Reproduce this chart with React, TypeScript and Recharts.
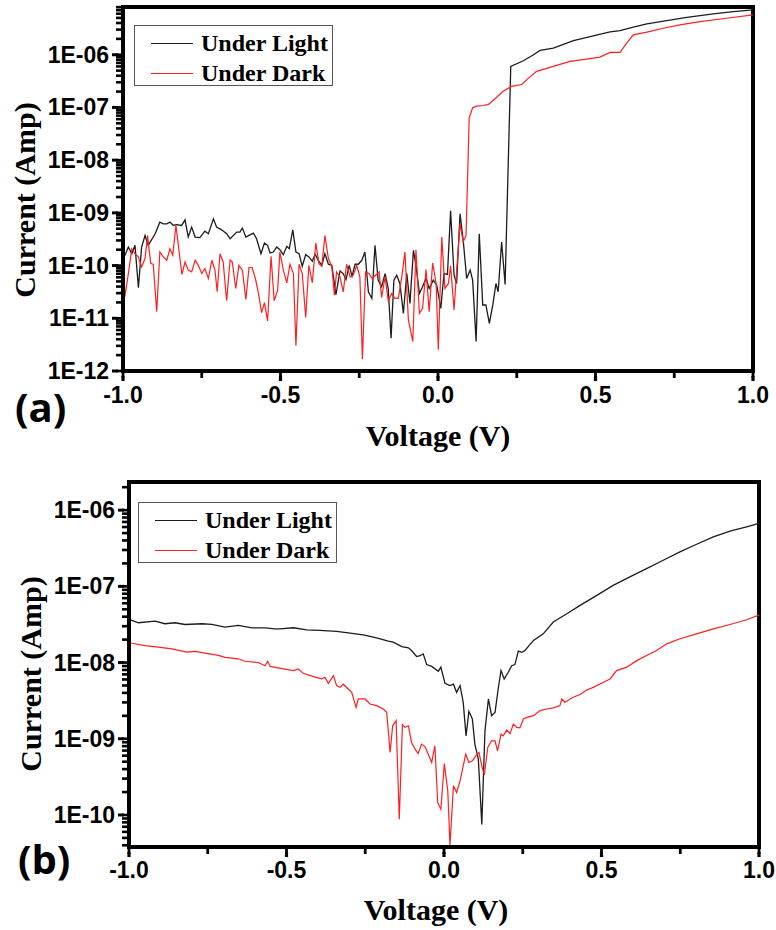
import { Legend, Line, LineChart, ReferenceArea, XAxis, YAxis } from 'recharts'

const SERIF = '"Liberation Serif", "Times New Roman", serif'
const SANS = '"Liberation Sans", Arial, sans-serif'

const seriesNames = ['Under Light', 'Under Dark']
const voltageTicks = [-1, -0.75, -0.5, -0.25, 0, 0.25, 0.5, 0.75, 1]
const minorSteps = [1, 2, 3, 4, 5, 6, 7, 8, 9]

// decades shown on the current axis of each panel
const decadesA = [-12, -11, -10, -9, -8, -7, -6]
const decadesB = [-11, -10, -9, -8, -7, -6]

// ---- panel (a) ----
const lightVoltsA = [
  -1.0, -0.994, -0.983, -0.972, -0.962, -0.951, -0.941, -0.93, -0.92, -0.898, -0.883, -0.872, -0.861,
  -0.851, -0.84, -0.83, -0.814, -0.803, -0.793, -0.782, -0.771, -0.756, -0.74, -0.729, -0.713, -0.703,
  -0.687, -0.671, -0.66, -0.639, -0.629, -0.621, -0.61, -0.6, -0.586, -0.576, -0.562, -0.551, -0.541,
  -0.533, -0.523, -0.512, -0.502, -0.491, -0.48, -0.472, -0.461, -0.451, -0.441, -0.431, -0.42, -0.41,
  -0.399, -0.39, -0.38, -0.369, -0.359, -0.348, -0.337, -0.324, -0.311, -0.301, -0.292, -0.282, -0.273,
  -0.263, -0.253, -0.242, -0.232, -0.221, -0.21, -0.2, -0.19, -0.179, -0.168, -0.158, -0.149, -0.14,
  -0.131, -0.121, -0.11, -0.099, -0.089, -0.078, -0.07, -0.059, -0.049, -0.038, -0.028, -0.015, -0.004,
  0.009, 0.019, 0.03, 0.04, 0.051, 0.059, 0.07, 0.08, 0.091, 0.102, 0.11, 0.121, 0.131, 0.142, 0.152,
  0.163, 0.174, 0.184, 0.191, 0.202, 0.213, 0.231, 0.271, 0.303, 0.324, 0.366, 0.43, 0.493, 0.546,
  0.578, 0.62, 0.663, 0.726, 0.79, 0.874, 0.938, 1.0,
]
const lightAmpsA = [
  1.4e-10, 1.57e-10, 2.25e-10, 1.68e-10, 2.42e-10, 3.8e-11, 2.25e-10, 3.73e-10, 2.42e-10, 4.02e-10,
  6.67e-10, 6.2e-10, 6.2e-10, 6.67e-10, 5.77e-10, 6.0e-10, 5.77e-10, 7.38e-10, 3.48e-10, 5.37e-10,
  3.48e-10, 3.4e-10, 4.5e-10, 4.02e-10, 7.7e-10, 5.37e-10, 4.77e-10, 4.02e-10, 3.23e-10, 4.32e-10,
  4.32e-10, 5.14e-10, 3.48e-10, 3.73e-10, 4.13e-10, 3.23e-10, 1.68e-10, 2.68e-10, 2.42e-10, 1.73e-10,
  1.81e-10, 2.25e-10, 2.0e-10, 1.61e-10, 2.32e-10, 2.09e-10, 4.77e-10, 1.81e-10, 1.68e-10, 9.7e-11,
  1.61e-10, 1.46e-10, 1.21e-10, 1.64e-10, 1.26e-10, 1.01e-10, 1.68e-10, 1.06e-10, 1.01e-10, 2.8e-11,
  7.9e-11, 7.06e-11, 5.44e-11, 1.01e-10, 6.3e-11, 1.06e-10, 1.06e-10, 1.26e-10, 1.81e-10, 3.18e-11,
  2.38e-11, 2.42e-10, 5.3e-11, 3.96e-11, 7.06e-11, 3.68e-11, 4.2e-12, 5.3e-11, 6.57e-11, 4.57e-11,
  1.24e-11, 7.06e-11, 1.92e-11, 1.95e-10, 1.01e-10, 2.96e-11, 3.96e-11, 5.69e-11, 3.68e-11, 5.3e-11,
  4.25e-11, 1.54e-11, 7.06e-11, 6.8e-11, 1.1e-9, 6.57e-11, 4.57e-11, 9.6e-10, 3.0e-10, 5.69e-11,
  8.2e-11, 5.3e-11, 3.63e-12, 4.02e-10, 1.79e-11, 1.8e-11, 8.0e-12, 1.79e-11, 4.57e-11, 3.18e-11,
  2.8e-10, 4.4e-11, 6.0e-7, 7.7e-7, 1.0e-6, 1.21e-6, 1.34e-6, 1.86e-6, 2.28e-6, 2.72e-6, 2.88e-6,
  3.33e-6, 3.85e-6, 4.44e-6, 5.14e-6, 5.94e-6, 6.56e-6, 7.1e-6,
]

const darkVoltsA = [
  -1.0, -0.994, -0.983, -0.972, -0.962, -0.951, -0.941, -0.93, -0.922, -0.912, -0.904, -0.893, -0.883,
  -0.872, -0.861, -0.851, -0.842, -0.832, -0.821, -0.813, -0.803, -0.793, -0.782, -0.771, -0.761, -0.75,
  -0.74, -0.729, -0.718, -0.708, -0.701, -0.692, -0.682, -0.671, -0.66, -0.653, -0.642, -0.632, -0.621,
  -0.61, -0.6, -0.59, -0.579, -0.57, -0.56, -0.551, -0.541, -0.53, -0.52, -0.509, -0.502, -0.491, -0.48,
  -0.47, -0.459, -0.451, -0.441, -0.431, -0.42, -0.41, -0.399, -0.388, -0.378, -0.369, -0.359, -0.348,
  -0.337, -0.329, -0.322, -0.311, -0.301, -0.29, -0.279, -0.269, -0.258, -0.248, -0.24, -0.23, -0.219,
  -0.209, -0.198, -0.187, -0.179, -0.168, -0.158, -0.147, -0.137, -0.126, -0.115, -0.105, -0.094, -0.08,
  -0.07, -0.059, -0.049, -0.038, -0.028, -0.017, -0.006, 0.001, 0.012, 0.022, 0.033, 0.04, 0.051, 0.059,
  0.07, 0.08, 0.089, 0.099, 0.11, 0.123, 0.144, 0.16, 0.181, 0.207, 0.234, 0.266, 0.282, 0.313, 0.366,
  0.419, 0.472, 0.514, 0.546, 0.578, 0.599, 0.62, 0.663, 0.715, 0.768, 0.832, 0.916, 1.0,
]
const darkAmpsA = [
  2.09e-10, 2.56e-11, 7.06e-11, 2.09e-10, 1.68e-10, 1.46e-10, 9.4e-11, 1.36e-10, 3.73e-10, 1.09e-10,
  1.06e-10, 1.34e-11, 1.81e-10, 1.46e-10, 1.26e-10, 2.09e-10, 1.57e-10, 5.77e-10, 1.68e-10, 6.76e-11,
  1.17e-10, 8.2e-11, 7.6e-11, 1.26e-10, 1.01e-10, 7.06e-11, 8.8e-11, 5.69e-11, 1.26e-10, 8.2e-11,
  3.18e-11, 1.68e-10, 1.17e-10, 2.15e-11, 1.28e-10, 1.17e-10, 3.68e-11, 1.01e-10, 8.2e-11, 2.28e-11,
  9.2e-11, 9.2e-11, 5.44e-11, 2.96e-11, 1.28e-11, 1.98e-11, 8.9e-12, 1.5e-10, 2.15e-11, 3.43e-11,
  1.81e-10, 8.2e-11, 4.71e-11, 1.06e-10, 7.06e-11, 3.0e-12, 1.06e-10, 7.06e-11, 1.04e-11, 1.01e-10,
  4.71e-11, 2.68e-10, 1.09e-10, 9.7e-11, 3.73e-10, 1.36e-10, 9.4e-11, 2.75e-11, 7.6e-11, 6.1e-11,
  3.18e-11, 1.06e-10, 6.1e-11, 6.57e-11, 1.01e-10, 6.1e-11, 1.68e-12, 7.6e-11, 7.06e-11, 5.69e-11,
  6.57e-11, 7.6e-11, 2.49e-11, 6.1e-11, 2.15e-11, 2.96e-11, 2.38e-11, 2.38e-11, 6.1e-11, 1.81e-10,
  9.3e-12, 3.63e-12, 2.0e-10, 1.24e-11, 1.54e-11, 8.4e-11, 1.34e-11, 1.12e-10, 4.57e-11, 2.53e-12,
  3.48e-10, 3.68e-11, 4.57e-11, 9.9e-11, 1.44e-11, 7.6e-11, 6.2e-10, 2.8e-10, 3.73e-10, 6.38e-8,
  9.86e-8, 1.06e-7, 1.09e-7, 1.14e-7, 1.46e-7, 2.03e-7, 2.52e-7, 2.72e-7, 3.38e-7, 4.84e-7, 6.0e-7,
  7.48e-7, 8.28e-7, 9.04e-7, 1.11e-6, 1.11e-6, 1.66e-6, 2.38e-6, 2.68e-6, 3.18e-6, 3.68e-6, 4.26e-6,
  4.92e-6, 5.69e-6,
]

// ---- panel (b) ----
const lightVoltsB = [
  -1.0, -0.991, -0.97, -0.917, -0.886, -0.854, -0.822, -0.769, -0.737, -0.695, -0.653, -0.61, -0.568,
  -0.537, -0.521, -0.478, -0.436, -0.394, -0.341, -0.298, -0.256, -0.214, -0.177, -0.161, -0.14, -0.134,
  -0.113, -0.103, -0.087, -0.076, -0.066, -0.055, -0.039, -0.018, -0.01, 0.003, 0.019, 0.03, 0.04,
  0.051, 0.061, 0.07, 0.079, 0.09, 0.098, 0.109, 0.12, 0.13, 0.141, 0.151, 0.162, 0.172, 0.181, 0.191,
  0.204, 0.215, 0.225, 0.236, 0.247, 0.257, 0.284, 0.315, 0.347, 0.39, 0.432, 0.485, 0.537, 0.59,
  0.643, 0.696, 0.749, 0.802, 0.855, 0.908, 0.961, 1.0,
]
const lightAmpsB = [
  3.7e-8, 3.57e-8, 3.33e-8, 3.5e-8, 3.23e-8, 3.33e-8, 3.16e-8, 3.23e-8, 3.16e-8, 2.92e-8, 3.07e-8,
  2.86e-8, 2.86e-8, 2.77e-8, 2.77e-8, 2.86e-8, 2.69e-8, 2.64e-8, 2.56e-8, 2.43e-8, 2.31e-8, 2.11e-8,
  1.91e-8, 1.85e-8, 1.67e-8, 1.62e-8, 1.56e-8, 1.44e-8, 1.2e-8, 1.23e-8, 1.3e-8, 9.4e-9, 8.9e-9, 7.7e-9,
  8.7e-9, 5.35e-9, 4.98e-9, 5.2e-9, 4.07e-9, 4.98e-9, 3.0e-9, 1.09e-9, 2.29e-9, 1.82e-9, 8.5e-10,
  5.4e-10, 7.5e-11, 1.27e-9, 3.33e-9, 2.01e-9, 2.22e-9, 4.5e-9, 7.85e-9, 6.1e-9, 7.46e-9, 9.1e-9,
  9.4e-9, 1.41e-8, 1.36e-8, 1.44e-8, 1.95e-8, 2.38e-8, 3.4e-8, 4.37e-8, 5.62e-8, 7.62e-8, 1.03e-7,
  1.33e-7, 1.71e-7, 2.2e-7, 2.83e-7, 3.57e-7, 4.46e-7, 5.3e-7, 6.04e-7, 6.7e-7,
]

const darkVoltsB = [
  -1.0, -0.991, -0.949, -0.907, -0.864, -0.817, -0.79, -0.759, -0.716, -0.695, -0.653, -0.632, -0.59,
  -0.568, -0.56, -0.552, -0.51, -0.478, -0.463, -0.447, -0.415, -0.388, -0.378, -0.367, -0.351, -0.341,
  -0.33, -0.32, -0.304, -0.293, -0.279, -0.272, -0.251, -0.235, -0.214, -0.193, -0.182, -0.171, -0.163,
  -0.152, -0.142, -0.132, -0.124, -0.113, -0.103, -0.092, -0.082, -0.071, -0.06, -0.05, -0.039, -0.029,
  -0.02, -0.01, 0.001, 0.012, 0.019, 0.03, 0.04, 0.051, 0.069, 0.079, 0.09, 0.101, 0.111, 0.12, 0.128,
  0.139, 0.151, 0.162, 0.17, 0.181, 0.188, 0.199, 0.21, 0.22, 0.231, 0.241, 0.252, 0.263, 0.284, 0.305,
  0.326, 0.347, 0.368, 0.374, 0.384, 0.4, 0.41, 0.432, 0.453, 0.474, 0.495, 0.527, 0.548, 0.58, 0.612,
  0.643, 0.675, 0.707, 0.749, 0.802, 0.855, 0.908, 0.961, 1.0,
]
const darkAmpsB = [
  1.85e-8, 1.79e-8, 1.67e-8, 1.59e-8, 1.51e-8, 1.37e-8, 1.4e-8, 1.33e-8, 1.24e-8, 1.17e-8, 1.12e-8,
  1.04e-8, 1.0e-8, 9.1e-9, 1.04e-8, 8.9e-9, 8.26e-9, 7.85e-9, 8.26e-9, 7.24e-9, 6.55e-9, 6.1e-9, 6.4e-9,
  5.35e-9, 6.75e-9, 4.98e-9, 4.73e-9, 5.2e-9, 4.5e-9, 4.07e-9, 2.58e-9, 3.33e-9, 3.33e-9, 2.86e-9,
  2.72e-9, 2.46e-9, 2.22e-9, 6.6e-10, 1.48e-9, 1.73e-9, 8.8e-11, 1.53e-9, 1.41e-9, 1.48e-9, 8.95e-10,
  7.3e-10, 6.4e-10, 8.5e-10, 7.85e-10, 6.28e-10, 4.89e-10, 8.1e-10, 1.45e-10, 1.19e-10, 4.73e-10,
  2.07e-10, 4.0e-11, 2.41e-10, 1.97e-10, 2.8e-10, 6.28e-10, 4.89e-10, 5.14e-10, 5.97e-10, 6.6e-10,
  4.41e-10, 3.36e-10, 7.7e-10, 9.4e-10, 9.4e-10, 6.95e-10, 1.15e-9, 1.09e-9, 1.3e-9, 1.17e-9, 1.56e-9,
  1.41e-9, 1.39e-9, 1.82e-9, 1.91e-9, 2.01e-9, 2.34e-9, 2.46e-9, 2.54e-9, 2.72e-9, 3.33e-9, 3.0e-9,
  3.33e-9, 3.5e-9, 3.8e-9, 4.37e-9, 4.73e-9, 5.24e-9, 6.1e-9, 7.85e-9, 8.7e-9, 1.06e-8, 1.24e-8,
  1.44e-8, 1.76e-8, 2.05e-8, 2.38e-8, 2.77e-8, 3.16e-8, 3.64e-8, 4.2e-8,
]

type Point = { v: number; i: number }

const zip = (volts: number[], amps: number[]): Point[] =>
  volts.map((v, k) => ({ v, i: amps[k] }))

const logTicks = (decades: number[], lo: number, hi: number) =>
  decades
    .flatMap((d) => minorSteps.map((m) => m * Math.pow(10, d)))
    .filter((t) => t >= lo * 0.999 && t <= hi * 1.001)

// native tick lines give the minor length; majors get a short extension
const TICK_LEN = 7

function CurrentTick({ x, y, payload }: any) {
  const e = Math.log10(payload.value)
  if (Math.abs(e - Math.round(e)) > 1e-6) return <g />
  return (
    <g>
      <line x1={x + 2} x2={x - 4} y1={y} y2={y} stroke="#000" strokeWidth={3} />
      <text x={x - 7} y={y + 8} textAnchor="end" fontFamily={SANS} fontWeight="bold" fontSize={23} fill="#000">
        {`1E-${String(-Math.round(e)).padStart(2, '0')}`}
      </text>
    </g>
  )
}

function VoltageTick({ x, y, payload, labelOffset }: any) {
  if (!Number.isInteger(payload.value * 2)) return <g />
  return (
    <g>
      <line x1={x} x2={x} y1={y - 2} y2={y + 3} stroke="#000" strokeWidth={3.2} />
      <text x={x} y={y + labelOffset - TICK_LEN} textAnchor="middle" fontFamily={SANS} fontWeight="bold" fontSize={23} fill="#000">
        {payload.value.toFixed(1)}
      </text>
    </g>
  )
}

function LegendBox({ payload }: any) {
  const items = [...(payload ?? [])].sort(
    (a: any, b: any) => seriesNames.indexOf(a.value) - seriesNames.indexOf(b.value),
  )
  return (
    <div
      style={{
        width: 199,
        height: 61,
        boxSizing: 'border-box',
        border: '1px solid #555',
        background: '#fff',
        paddingTop: 2,
      }}
    >
      {items.map((entry: any) => (
        <div key={entry.value} style={{ display: 'flex', alignItems: 'center', height: 30 }}>
          <span style={{ marginLeft: 16, width: 42, borderTop: `1.5px solid ${entry.color}` }} />
          <span
            style={{
              marginLeft: 8,
              fontFamily: SERIF,
              fontWeight: 'bold',
              fontSize: 24,
              lineHeight: '30px',
              color: '#000',
            }}
          >
            {entry.value}
          </span>
        </div>
      ))}
    </div>
  )
}

interface PanelProps {
  letter: string
  light: Point[]
  dark: Point[]
  domain: [number, number]
  ticks: number[]
  top: number
  height: number
  marginTop: number
  marginRight: number
  xAxisHeight: number
  yAxisWidth: number
  tickLabelOffset: number
  xTitleOffset: number
  xTitleCenter: number
  yTitleX: number
  yTitleY: number
  letterX: number
  letterY: number
  legendLeft: number
  legendTop: number
}

function Panel(p: PanelProps) {
  const frame = { stroke: '#000', strokeWidth: 4 }
  return (
    <div style={{ position: 'absolute', left: 0, top: p.top }}>
      <LineChart
        width={776}
        height={p.height}
        margin={{ top: p.marginTop, right: p.marginRight, left: 0, bottom: 0 }}
      >
        <XAxis
          dataKey="v"
          type="number"
          domain={[-1, 1]}
          ticks={voltageTicks}
          interval={0}
          allowDataOverflow
          height={p.xAxisHeight}
          axisLine={frame}
          tickLine={{ stroke: '#000', strokeWidth: 2.8 }}
          tickSize={TICK_LEN}
          tickMargin={0}
          tick={(props: any) => <VoltageTick {...props} labelOffset={p.tickLabelOffset} />}
          label={({ viewBox }: any) => (
            <g>
              <text
                x={p.xTitleCenter}
                y={viewBox.y + p.xTitleOffset}
                textAnchor="middle"
                fontFamily={SERIF}
                fontWeight="bold"
                fontSize={30}
                fill="#000"
              >
                Voltage (V)
              </text>
              <text
                x={p.letterX}
                y={p.letterY}
                fontFamily='"Open Sans", sans-serif'
                fontWeight="bold"
                fontSize={40}
                fill="#000"
              >
                {p.letter}
              </text>
            </g>
          )}
        />
        <YAxis
          type="number"
          scale="log"
          domain={p.domain}
          ticks={p.ticks}
          interval={0}
          allowDataOverflow
          width={p.yAxisWidth}
          axisLine={frame}
          tickLine={{ stroke: '#000', strokeWidth: 2.6 }}
          tickSize={TICK_LEN}
          tickMargin={0}
          tick={(props: any) => <CurrentTick {...props} />}
          label={() => (
            <text
              x={p.yTitleX}
              y={p.yTitleY}
              transform={`rotate(-90 ${p.yTitleX} ${p.yTitleY})`}
              textAnchor="middle"
              dominantBaseline="central"
              fontFamily={SERIF}
              fontWeight="bold"
              fontSize={30}
              fill="#000"
            >
              Current (Amp)
            </text>
          )}
        />
        <ReferenceArea
          x1={-1}
          x2={1}
          y1={p.domain[0]}
          y2={p.domain[1]}
          fill="none"
          stroke="#000"
          strokeWidth={4}
          ifOverflow="visible"
        />
        <Legend
          layout="vertical"
          align="center"
          verticalAlign="middle"
          content={<LegendBox />}
          wrapperStyle={{ left: p.legendLeft, top: p.legendTop, width: 199, height: 61 }}
        />
        <Line
          data={p.light}
          dataKey="i"
          name="Under Light"
          stroke="#1c1c1c"
          strokeWidth={1.3}
          dot={false}
          isAnimationActive={false}
        />
        <Line
          data={p.dark}
          dataKey="i"
          name="Under Dark"
          stroke="#ff1f1f"
          strokeWidth={1.2}
          dot={false}
          isAnimationActive={false}
        />
      </LineChart>
    </div>
  )
}

export default function App() {
  const domainA: [number, number] = [1e-12, 8.05e-6]
  const domainB: [number, number] = [3.8e-11, 2.34e-6]
  return (
    <div style={{ position: 'fixed', left: 0, top: 0, width: 776, height: 930, background: '#fff' }}>
      <Panel
        letter="(a)"
        light={zip(lightVoltsA, lightAmpsA)}
        dark={zip(darkVoltsA, darkAmpsA)}
        domain={domainA}
        ticks={logTicks(decadesA, domainA[0], domainA[1])}
        top={0}
        height={465}
        marginTop={7}
        marginRight={23}
        xAxisHeight={94}
        yAxisWidth={123}
        tickLabelOffset={32}
        xTitleOffset={75}
        xTitleCenter={438}
        yTitleX={24}
        yTitleY={200}
        letterX={15}
        letterY={422}
        legendLeft={134}
        legendTop={25}
      />
      <Panel
        letter="(b)"
        light={zip(lightVoltsB, lightAmpsB)}
        dark={zip(darkVoltsB, darkAmpsB)}
        domain={domainB}
        ticks={logTicks(decadesB, domainB[0], domainB[1])}
        top={470}
        height={460}
        marginTop={12}
        marginRight={17}
        xAxisHeight={83}
        yAxisWidth={129}
        tickLabelOffset={31}
        xTitleOffset={73}
        xTitleCenter={436}
        yTitleX={30}
        yTitleY={204}
        letterX={18}
        letterY={404}
        legendLeft={138}
        legendTop={32}
      />
    </div>
  )
}
